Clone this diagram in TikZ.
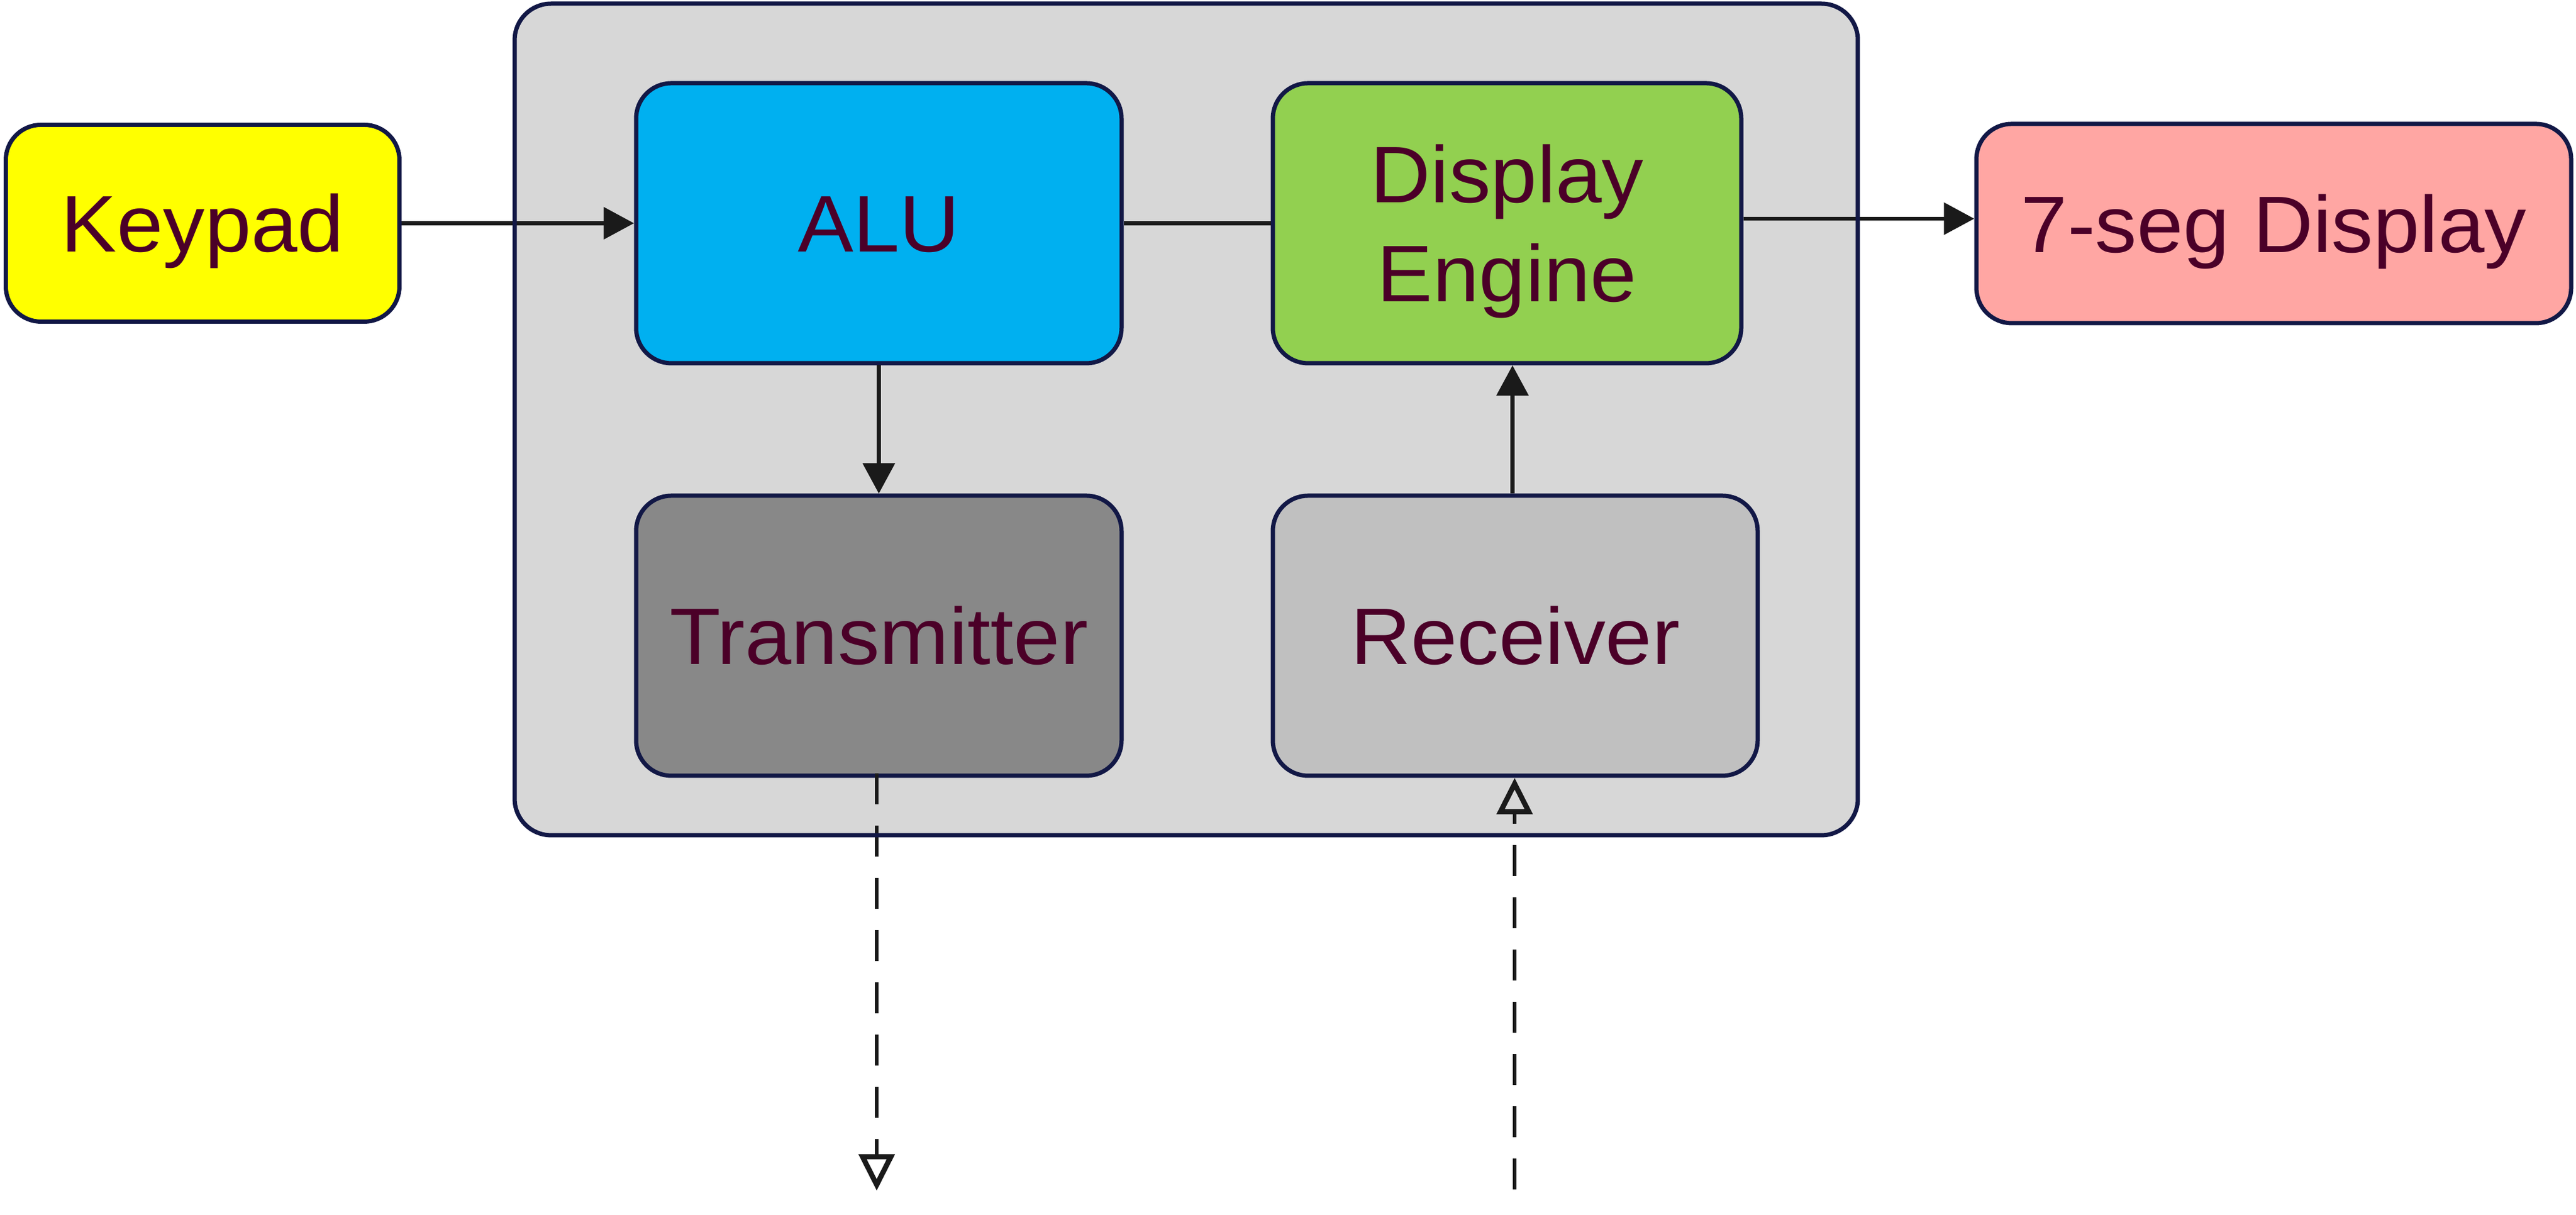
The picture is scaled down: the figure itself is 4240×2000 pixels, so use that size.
\documentclass[tikz,border=0pt]{standalone}
\usepackage{fontspec}
\setmainfont{Liberation Sans}[FakeStretch=1.04]
\usetikzlibrary{arrows.meta}
\definecolor{txtc}{RGB}{75,0,40}
\definecolor{bordc}{RGB}{18,24,70}
\definecolor{arrc}{RGB}{26,26,26}
\definecolor{outerfill}{RGB}{215,215,215}
\definecolor{kpfill}{RGB}{255,255,0}
\definecolor{alufill}{RGB}{0,176,240}
\definecolor{defill}{RGB}{146,208,80}
\definecolor{segfill}{RGB}{255,166,163}
\definecolor{txfill}{RGB}{136,136,136}
\definecolor{rxfill}{RGB}{192,192,192}
\begin{document}
\begin{tikzpicture}[x=0.1pt,y=-0.1pt,
  blk/.style={draw=bordc, line width=0.7pt, rounded corners=5.8pt, text=txtc,
    font=\fontsize{13.2pt}{16.3pt}\selectfont, align=center, inner sep=0pt,
    text height=9.45pt, text depth=0pt},
  outerbox/.style={rounded corners=6pt, fill=outerfill, inner sep=0pt},
  outerborder/.style={draw=bordc, line width=0.7pt, rounded corners=6pt},
  arr/.style={draw=arrc, line width=0.68pt, -{Triangle[length=5pt,width=5.2pt]}},
  plainline/.style={draw=arrc, line width=0.68pt},
  dasharr/.style={draw=arrc, line width=0.62pt, dash pattern=on 5.1pt off 3.5pt,
    -{Triangle[open,length=6pt,width=5.8pt,line width=0.85pt]}}
]
\useasboundingbox (0,0) rectangle (4240,2000);
\fill[white] (0,0) rectangle (4240,2000);
% outer container
\node[outerbox, minimum width=220.7pt, minimum height=136.5pt] (outer) at (1952.5,690.5) {};
% blocks
\node[blk, fill=kpfill, minimum width=64.8pt, minimum height=32.4pt] (kp) at (333.5,367.5) {Keypad};
\node[blk, fill=alufill, minimum width=79.9pt, minimum height=46.1pt] (alu) at (1446.5,367.5) {ALU};
\node[blk, fill=defill, minimum width=77.1pt, minimum height=46.1pt, text height=25.75pt] (de) at (2480.5,367.5) {Display\\Engine};
\node[blk, fill=segfill, minimum width=97.9pt, minimum height=32.8pt] (seg) at (3742.5,368) {7-seg Display};
\node[blk, fill=txfill, minimum width=79.9pt, minimum height=46.1pt] (tx) at (1446.5,1046.5) {Transmitter};
\node[blk, fill=rxfill, minimum width=79.8pt, minimum height=46.1pt] (rx) at (2494,1046.5) {Receiver};
% free ends of dashed connectors
\coordinate (txout) at (1443,1960);
\coordinate (rxin) at (2493,1958);
% connectors
\draw[arr] (kp.east) -- (alu.west);
\draw[plainline] (alu.east) -- (de.west);
\draw[arr] ([yshift=0.75pt]de.east) -- ([yshift=0.75pt]de.east -| seg.west);
\draw[arr] (alu.south) -- (tx.north);
\draw[arr] ([xshift=-0.45pt]rx.north) -- ([xshift=-0.45pt]rx.north |- de.south);
\draw[dasharr] ([yshift=0.7pt]tx.south -| txout) -- (txout);
\draw[dasharr] (rxin) -- (rxin |- rx.south);
% container border, drawn over the crossing connectors
\draw[outerborder] (outer.north west) rectangle (outer.south east);
\end{tikzpicture}
\end{document}
